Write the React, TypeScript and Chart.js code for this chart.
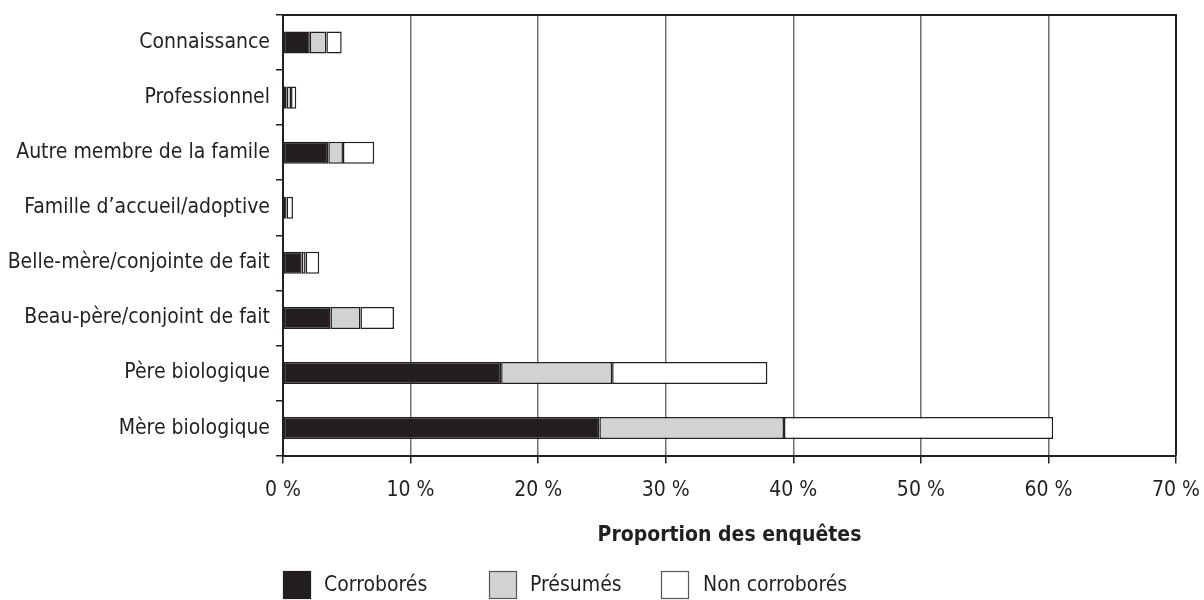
import React, { useEffect, useRef } from "react";
import { Chart, registerables } from "chart.js";

Chart.register(...registerables);

const categories = [
  "Connaissance",
  "Professionnel",
  "Autre membre de la famile",
  "Famille d’accueil/adoptive",
  "Belle-mère/conjointe de fait",
  "Beau-père/conjoint de fait",
  "Père biologique",
  "Mère biologique",
];
const corrobores = [2.1, 0.29, 3.55, 0.23, 1.46, 3.72, 17.1, 24.8];
const presumes = [1.3, 0.34, 1.15, 0.05, 0.31, 2.35, 8.7, 14.47];
const nonCorrobores = [1.2, 0.41, 2.45, 0.5, 1.07, 2.63, 12.17, 21.1];
const seriesNames = ["Corroborés", "Présumés", "Non corroborés"];
const xMin = 0;
const xMax = 70;
const xStep = 10;
const axisTitle = "Proportion des enquêtes";

const FONT = '"DejaVu Sans Condensed", "Liberation Sans Narrow", sans-serif';
const DARK = "#231f20";
const GREY = "#d1d2d4";

const framePlugin = {
  id: "frame",
  afterDraw(chart: any) {
    const { ctx, chartArea } = chart;
    ctx.save();
    ctx.strokeStyle = DARK;
    ctx.lineWidth = 2;
    ctx.beginPath();
    ctx.moveTo(chartArea.left, chartArea.top);
    ctx.lineTo(chartArea.right, chartArea.top);
    ctx.lineTo(chartArea.right, chartArea.bottom);
    ctx.stroke();
    ctx.restore();
  },
};

const legendPlugin = {
  id: "customLegend",
  afterDraw(chart: any) {
    const { ctx, chartArea } = chart;
    const boxOffsets = [0, 206, 378];
    const textOffsets = [41, 247, 420];
    const top = 571;
    const size = 28;
    ctx.save();
    chart.data.datasets.forEach((ds: any, i: number) => {
      const x = chartArea.left + boxOffsets[i];
      ctx.fillStyle = ds.backgroundColor;
      ctx.fillRect(x, top, size, size);
      ctx.strokeStyle = i === 0 ? DARK : "#555";
      ctx.lineWidth = 1.2;
      ctx.strokeRect(x + 0.5, top + 0.5, size - 1, size - 1);
      ctx.fillStyle = DARK;
      ctx.font = `21px ${FONT}`;
      ctx.textBaseline = "middle";
      ctx.textAlign = "left";
      ctx.fillText(ds.label, chartArea.left + textOffsets[i], top + 15);
    });
    ctx.restore();
  },
};

export default function App() {
  const ref = useRef<HTMLCanvasElement | null>(null);

  useEffect(() => {
    if (!ref.current) return;
    const data = [corrobores, presumes, nonCorrobores];
    const fills = [DARK, GREY, "#ffffff"];
    const chart = new Chart(ref.current, {
      type: "bar",
      data: {
        labels: categories,
        datasets: seriesNames.map((name, i) => ({
          label: name,
          data: data[i],
          backgroundColor: fills[i],
          borderColor: DARK,
          borderWidth: 1.5,
          borderSkipped: false,
          barPercentage: 0.4,
          categoryPercentage: 1,
        })),
      },
      options: {
        indexAxis: "y",
        animation: false,
        responsive: true,
        maintainAspectRatio: false,
        layout: { padding: { top: 15, right: 28, bottom: 52, left: 0 } },
        plugins: {
          legend: { display: false },
          tooltip: { enabled: false },
        },
        scales: {
          x: {
            stacked: true,
            min: xMin,
            max: xMax,
            afterFit: (axis: any) => {
              axis.paddingLeft = 0;
              axis.paddingRight = 0;
            },
            ticks: {
              stepSize: xStep,
              padding: 14,
              color: DARK,
              font: { family: FONT, size: 21 },
              callback: (v: any) => `${v}\u00a0%`,
            },
            grid: {
              color: "#707070",
              lineWidth: 1.5,
              tickLength: 8,
              tickColor: DARK,
            },
            border: { color: DARK, width: 2 },
            title: {
              display: true,
              text: axisTitle,
              color: DARK,
              font: { family: FONT, size: 21, weight: "bold" },
              padding: { top: 6, bottom: 0 },
            },
          },
          y: {
            stacked: true,
            afterFit: (axis: any) => {
              axis.width = 283;
              axis.paddingTop = 0;
              axis.paddingBottom = 0;
            },
            ticks: {
              padding: 6,
              color: DARK,
              font: { family: FONT, size: 21 },
            },
            grid: {
              offset: true,
              drawOnChartArea: false,
              tickLength: 7,
              tickColor: DARK,
              lineWidth: 1.5,
            },
            border: { color: DARK, width: 2 },
          },
        },
      },
      plugins: [framePlugin, legendPlugin],
    } as any);
    return () => chart.destroy();
  }, []);

  return (
    <div style={{ position: "fixed", left: 0, top: 0, width: 1204, height: 600, background: "#fff" }}>
      <canvas ref={ref} />
    </div>
  );
}
